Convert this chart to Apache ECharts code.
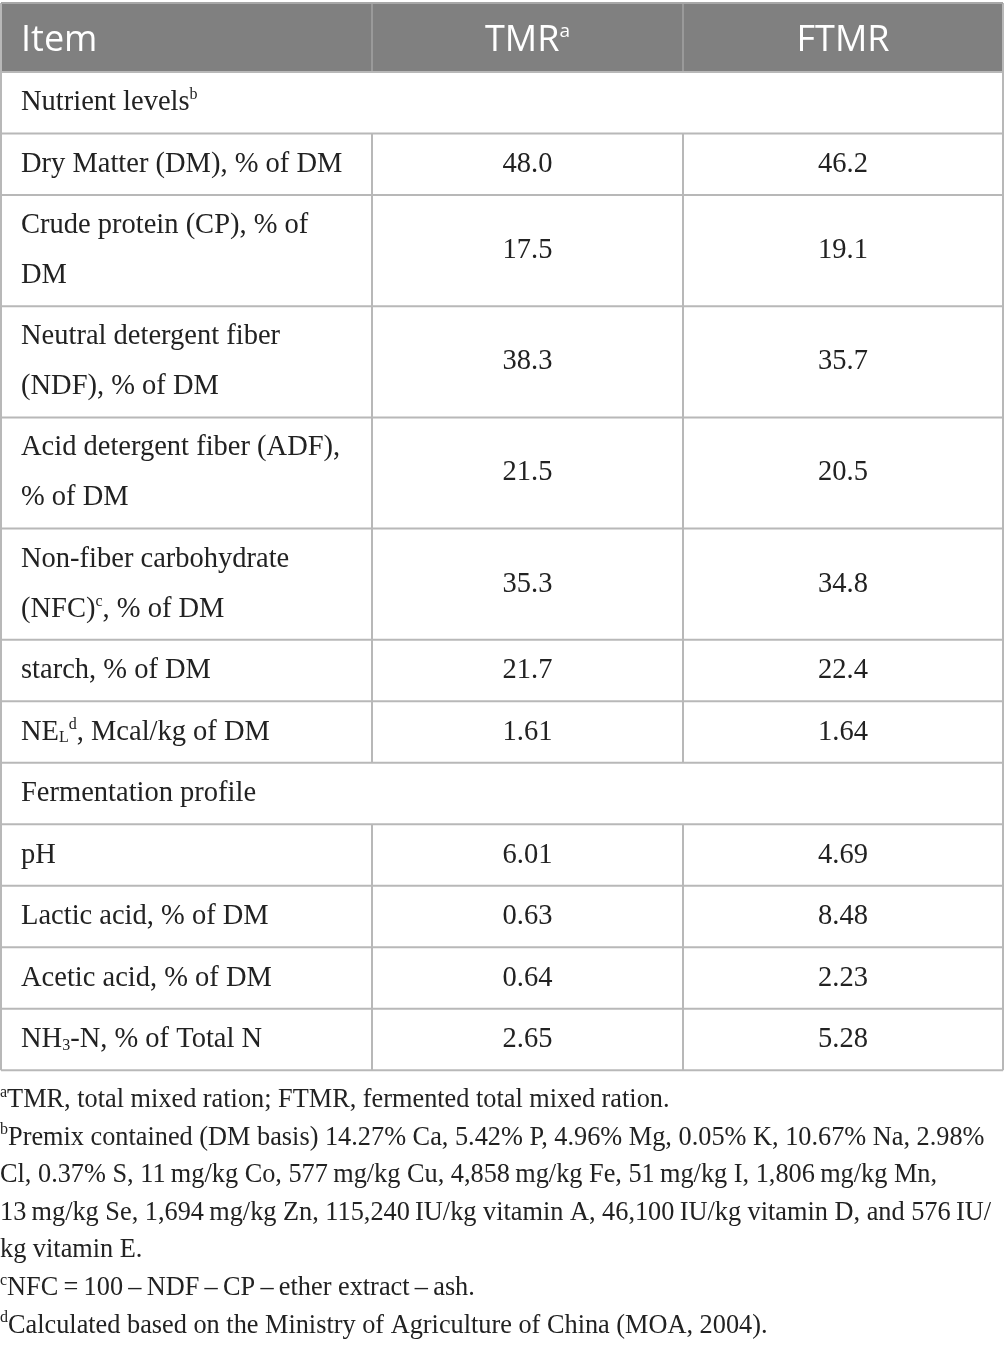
<!DOCTYPE html>
<html>
<head>
<meta charset="utf-8">
<script src="https://cdn.jsdelivr.net/npm/echarts@6/dist/echarts.min.js"></script>
<style>
html, body { margin: 0; padding: 0; background: #fff; }
#main { width: 1005px; height: 1348px; }
</style>
</head>
<body>
<div id="main"></div>
<script>
// table content
var headers = ['Item', 'TMR{hsup|a}', 'FTMR'];
var items = [
    'Nutrient levels{sup|b}',
    'Dry Matter (DM), % of DM',
    'Crude protein (CP), % of\nDM',
    'Neutral detergent fiber\n(NDF), % of DM',
    'Acid detergent fiber (ADF),\n% of DM',
    'Non-fiber carbohydrate\n(NFC){sup|c}, % of DM',
    'starch, % of DM',
    'NE{sub|L}{sup|d}, Mcal/kg of DM',
    'Fermentation profile',
    'pH',
    'Lactic acid, % of DM',
    'Acetic acid, % of DM',
    'NH{sub|3}-N, % of Total N'
];
var sectionRows = [0, 8];
var tmr = [null, '48.0', '17.5', '38.3', '21.5', '35.3', '21.7', '1.61', null, '6.01', '0.63', '0.64', '2.65'];
var ftmr = [null, '46.2', '19.1', '35.7', '20.5', '34.8', '22.4', '1.64', null, '4.69', '8.48', '2.23', '5.28'];
var notes = [
    '{sup|a}TMR, total mixed ration; FTMR, fermented total mixed ration.',
    '{sup|b}Premix contained (DM basis) 14.27% Ca, 5.42% P, 4.96% Mg, 0.05% K, 10.67% Na, 2.98%',
    'Cl, 0.37% S, 11\u2009mg/kg Co, 577\u2009mg/kg Cu, 4,858\u2009mg/kg Fe, 51\u2009mg/kg I, 1,806\u2009mg/kg Mn,',
    '13\u2009mg/kg Se, 1,694\u2009mg/kg Zn, 115,240\u2009IU/kg vitamin A, 46,100\u2009IU/kg vitamin D, and 576\u2009IU/',
    'kg vitamin E.',
    '{sup|c}NFC\u2009=\u2009100\u2009\u2013\u2009NDF\u2009\u2013\u2009CP\u2009\u2013\u2009ether extract\u2009\u2013\u2009ash.',
    '{sup|d}Calculated based on the Ministry of Agriculture of China (MOA, 2004).'
];

var chart = echarts.init(document.getElementById('main'));

var serif = '"Liberation Serif", "DejaVu Serif", serif';
var sans = '"Open Sans", "Noto Sans", sans-serif';
var colX = [1, 372, 683, 1003];
var top0 = 3, headH = 69, oneH = 61.5, twoH = 111.2;
var lineColor = '#b8b8b8';

var richBody = {
    sup: { fontSize: 16, fontFamily: serif, fill: '#222', padding: [0, 0, 15, 0] },
    sub: { fontSize: 16, fontFamily: serif, fill: '#222', padding: [12, 0, 0, 0] }
};
var richHead = {
    hsup: { fontSize: 19, fontFamily: sans, fill: '#fff', padding: [0, 0, 17, 0] }
};

function txt(x, y, s, opt) {
    return {
        type: 'text', x: x, y: y, silent: true,
        style: Object.assign({
            text: s, fill: '#222', fontFamily: serif, fontSize: 28.5,
            textAlign: 'left', textVerticalAlign: 'middle', lineHeight: 50,
            rich: richBody
        }, opt || {})
    };
}
function hline(y, x1, x2, c) {
    return { type: 'line', silent: true, shape: { x1: x1, y1: y, x2: x2, y2: y }, style: { stroke: c || lineColor, lineWidth: 2 } };
}
function vline(x, y1, y2, c) {
    return { type: 'line', silent: true, shape: { x1: x, y1: y1, x2: x, y2: y2 }, style: { stroke: c || lineColor, lineWidth: 2 } };
}

var els = [];
// header
els.push({ type: 'rect', silent: true, shape: { x: colX[0], y: top0, width: colX[3] - colX[0], height: headH }, style: { fill: '#808080' } });
els.push(vline(colX[1], top0, top0 + headH, '#9a9a9a'));
els.push(vline(colX[2], top0, top0 + headH, '#9a9a9a'));
var headY = top0 + headH / 2 + 3;
var headStyle = { fill: '#fff', fontFamily: sans, fontSize: 36, rich: richHead };
els.push(txt(21, headY, headers[0], headStyle));
els.push(txt((colX[1] + colX[2]) / 2, headY, headers[1], Object.assign({ textAlign: 'center' }, headStyle)));
els.push(txt((colX[2] + colX[3]) / 2, headY, headers[2], Object.assign({ textAlign: 'center' }, headStyle)));

// body rows
var y = top0 + headH;
els.push(hline(y, colX[0], colX[3]));
items.forEach(function (label, i) {
    var h = label.indexOf('\n') >= 0 ? twoH : oneH;
    var cy = y + h / 2;
    els.push(txt(21, cy, label));
    if (sectionRows.indexOf(i) < 0) {
        els.push(vline(colX[1], y, y + h));
        els.push(vline(colX[2], y, y + h));
        els.push(txt((colX[1] + colX[2]) / 2, cy, tmr[i], { textAlign: 'center' }));
        els.push(txt((colX[2] + colX[3]) / 2, cy, ftmr[i], { textAlign: 'center' }));
    }
    y += h;
    els.push(hline(y, colX[0], colX[3]));
});
var tableBottom = y;
els.push(vline(colX[0], top0, tableBottom));
els.push(vline(colX[3], top0, tableBottom));
els.push(hline(top0, colX[0], colX[3], '#a8a8a8'));

// footnotes
notes.forEach(function (n, i) {
    els.push(txt(0, 1100 + i * 37.6, n, { fontSize: 26.3, lineHeight: 30 }));
});

chart.setOption({ animation: false, graphic: { elements: els } });
</script>
</body>
</html>
